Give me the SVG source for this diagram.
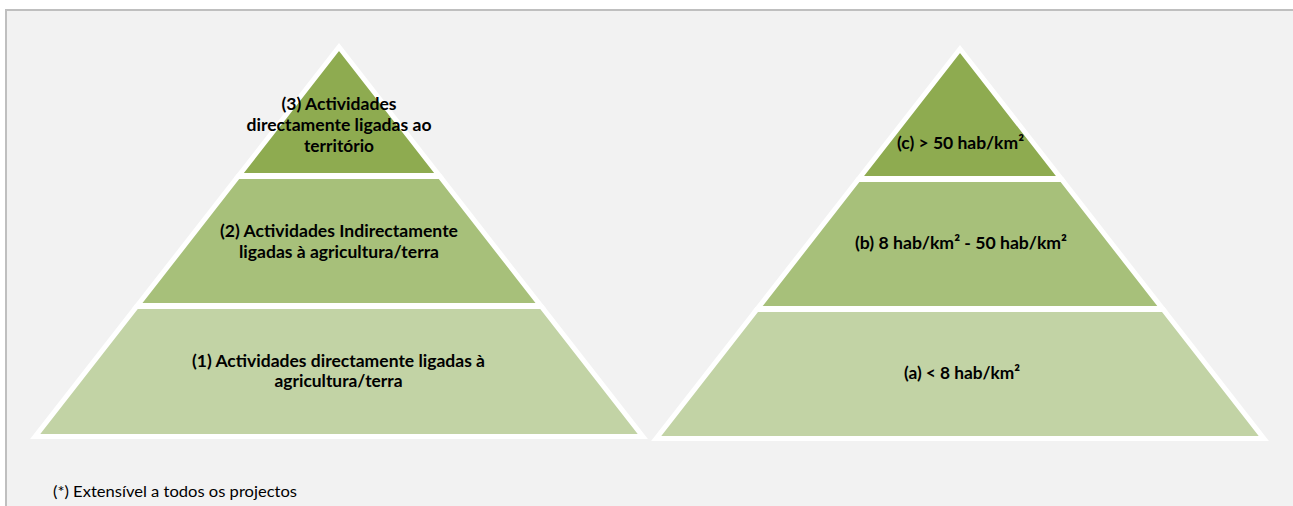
<svg xmlns="http://www.w3.org/2000/svg" width="1293" height="506" viewBox="0 0 1293 506">
<style>
.lvl{stroke:#ffffff;stroke-width:5;stroke-linejoin:miter}
.c3{fill:#8eab50}
.c2{fill:#a7c07a}
.c1{fill:#c2d3a5}
.t{font-family:Lato,"Open Sans","Liberation Sans",sans-serif;font-weight:bold;font-size:17.5px;fill:#000000;text-anchor:middle}
.foot{font-family:Lato,"Open Sans","Liberation Sans",sans-serif;font-size:14.5px;fill:#000000}
</style>
<rect x="0" y="0" width="1293" height="506" fill="#ffffff"/>
<rect id="frame" x="6" y="10" width="1300" height="600" fill="#f2f2f2" stroke="#bfbfbf" stroke-width="2"/>
<g id="connectors"/>
<g id="left-level-3">
<polygon class="lvl c3" points="339,47 238.8,175.5 439.2,175.5"/>
<text class="t" x="339" y="110" textLength="115" lengthAdjust="spacingAndGlyphs">(3) Actividades</text>
<text class="t" x="339" y="131" textLength="185" lengthAdjust="spacingAndGlyphs">directamente ligadas ao</text>
<text class="t" x="339" y="151.5" textLength="70" lengthAdjust="spacingAndGlyphs">território</text>
</g>
<g id="left-level-2">
<polygon class="lvl c2" points="238,176.5 440,176.5 540.6,305.5 137.4,305.5"/>
<text class="t" x="339" y="237" textLength="238" lengthAdjust="spacingAndGlyphs">(2) Actividades Indirectamente</text>
<text class="t" x="339" y="257.5" textLength="200" lengthAdjust="spacingAndGlyphs">ligadas à agricultura/terra</text>
</g>
<g id="left-level-1">
<polygon class="lvl c1" points="136.6,306.5 541.4,306.5 642.8,436.5 35.2,436.5"/>
<text class="t" x="338.5" y="367" textLength="293" lengthAdjust="spacingAndGlyphs">(1) Actividades directamente ligadas à</text>
<text class="t" x="338.5" y="387" textLength="128" lengthAdjust="spacingAndGlyphs">agricultura/terra</text>
</g>
<g id="right-level-c">
<polygon class="lvl c3" points="960,49 859,178.5 1061,178.5"/>
<text class="t" x="960.5" y="149" textLength="127" lengthAdjust="spacingAndGlyphs">(c) &gt; 50 hab/km²</text>
</g>
<g id="right-level-b">
<polygon class="lvl c2" points="858.2,179.5 1061.8,179.5 1162.4,308.5 757.6,308.5"/>
<text class="t" x="961" y="249" textLength="212" lengthAdjust="spacingAndGlyphs">(b) 8 hab/km² - 50 hab/km²</text>
</g>
<g id="right-level-a">
<polygon class="lvl c1" points="756.8,309.5 1163.2,309.5 1263.8,438.5 656.2,438.5"/>
<text class="t" x="962" y="379" textLength="116" lengthAdjust="spacingAndGlyphs">(a) &lt; 8 hab/km²</text>
</g>
<g id="footnote">
<text class="foot" x="53" y="497" textLength="244" lengthAdjust="spacingAndGlyphs">(*) Extensível a todos os projectos</text>
</g>
</svg>
